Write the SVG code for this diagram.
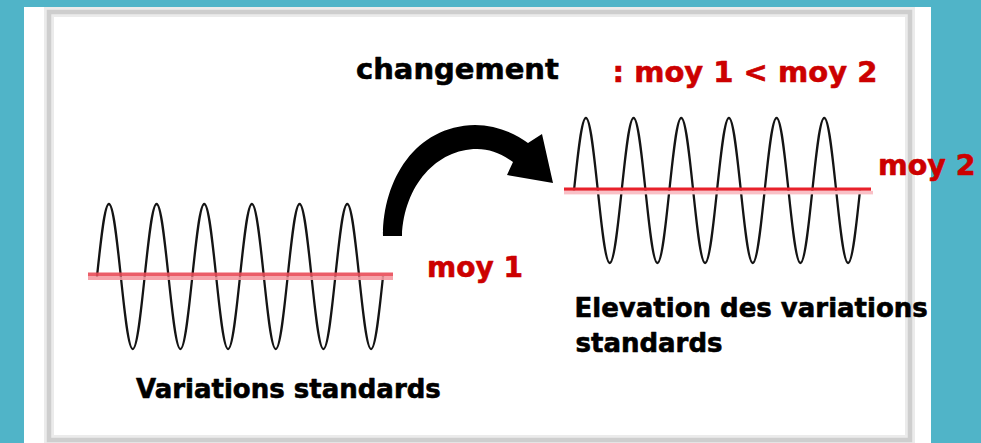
<svg xmlns="http://www.w3.org/2000/svg" width="981" height="443" viewBox="0 0 981 443">
  <style>
    .lbl { font-family: "DejaVu Sans", "Liberation Sans", sans-serif; font-weight: bold; stroke-width: 0.6; stroke-linejoin: round; }
    .blk { fill: #000000; stroke: #000000; }
    .red { fill: #cc0000; stroke: #cc0000; }
    .wave { fill: none; stroke: #141414; stroke-width: 2.3; stroke-linejoin: round; }
  </style>
  <defs>
    <path id="sine" d="M0,0 c3.887,-37.14 7.604,-72.5 11.917,-72.5 c4.313,0 8.030,35.36 11.917,72.5 c3.887,37.14 7.604,72.5 11.917,72.5 c4.313,0 8.030,-35.36 11.917,-72.5 c3.887,-37.14 7.604,-72.5 11.917,-72.5 c4.313,0 8.030,35.36 11.917,72.5 c3.887,37.14 7.604,72.5 11.917,72.5 c4.313,0 8.030,-35.36 11.917,-72.5 c3.887,-37.14 7.604,-72.5 11.917,-72.5 c4.313,0 8.030,35.36 11.917,72.5 c3.887,37.14 7.604,72.5 11.917,72.5 c4.313,0 8.030,-35.36 11.917,-72.5 c3.887,-37.14 7.604,-72.5 11.917,-72.5 c4.313,0 8.030,35.36 11.917,72.5 c3.887,37.14 7.604,72.5 11.917,72.5 c4.313,0 8.030,-35.36 11.917,-72.5 c3.887,-37.14 7.604,-72.5 11.917,-72.5 c4.313,0 8.030,35.36 11.917,72.5 c3.887,37.14 7.604,72.5 11.917,72.5 c4.313,0 8.030,-35.36 11.917,-72.5 c3.887,-37.14 7.604,-72.5 11.917,-72.5 c4.313,0 8.030,35.36 11.917,72.5 c3.887,37.14 7.604,72.5 11.917,72.5 c4.313,0 8.030,-35.36 11.917,-72.5"/>
  </defs>

  <!-- background -->
  <rect x="0" y="0" width="981" height="443" fill="#50b4c8"/>
  <rect x="24" y="7" width="907" height="436" fill="#ffffff"/>
  <rect x="49" y="12" width="861" height="428" fill="none" stroke="#ebebeb" stroke-width="10"/>
  <rect x="49" y="12" width="861" height="428" fill="none" stroke="#cecece" stroke-width="4.5"/>

  <g id="wave-left">
    <use href="#sine" x="97" y="276.5" class="wave"/>
    <rect x="88" y="272.5" width="305" height="4" fill="#e94b58" opacity="0.9"/>
    <rect x="88" y="276.5" width="305" height="3.5" fill="#f59aa2" opacity="0.9"/>
  </g>

  <g id="wave-right">
    <use href="#sine" x="574" y="190.5" class="wave"/>
    <rect x="564" y="187.5" width="307" height="3.3" fill="#e8212b"/>
    <rect x="564" y="190.8" width="309" height="3.6" fill="#f9c0c6"/>
  </g>

  <g id="connectors">
    <path d="M383,236 C383,180 415,126 475,125 C495,125 515,133 528,143 L542,134 L553,183 L507,175 L513,162 C500,153 490,149 477,149 C437,149 404,185 402,236 Z" fill="#000000"/>
  </g>

  <g id="label-changement">
    <text x="356" y="79" class="lbl blk" font-size="29">changement</text>
  </g>
  <g id="label-comparaison">
    <text x="612.5" y="82" class="lbl red" font-size="29">: moy 1 &lt; moy 2</text>
  </g>
  <g id="label-moy2">
    <text x="878" y="175" class="lbl red" font-size="28.5">moy 2</text>
  </g>
  <g id="label-moy1">
    <text x="427" y="276.5" class="lbl red" font-size="28">moy 1</text>
  </g>
  <g id="label-elevation">
    <text x="574.5" y="316.5" class="lbl blk" font-size="26">Elevation des variations</text>
    <text x="575.5" y="351.5" class="lbl blk" font-size="26">standards</text>
  </g>
  <g id="label-variations">
    <text x="136" y="397.5" class="lbl blk" font-size="26">Variations standards</text>
  </g>
</svg>
